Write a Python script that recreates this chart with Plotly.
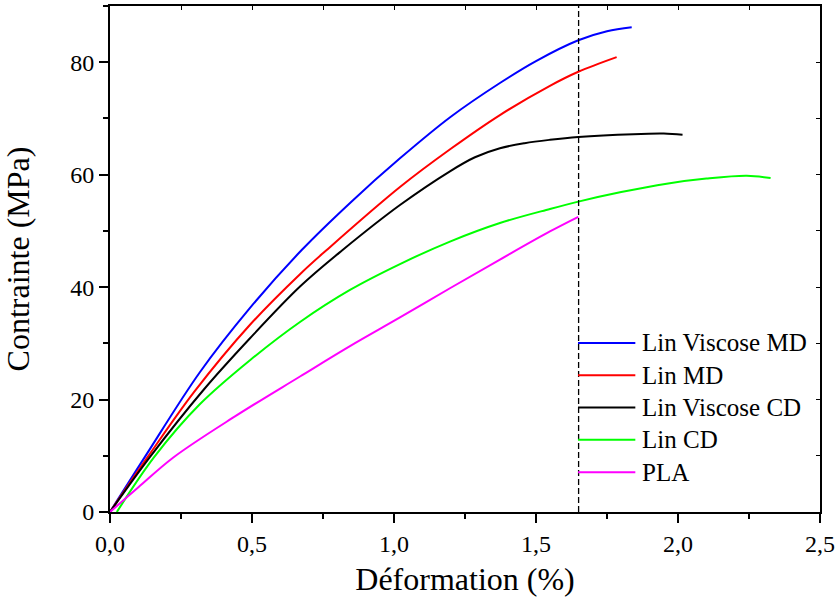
import plotly.graph_objects as go

# ---- data ----
names = ["Lin Viscose MD", "Lin MD", "Lin Viscose CD", "Lin CD", "PLA"]
colors = ["#0000ff", "#ff0000", "#000000", "#00ff00", "#ff00ff"]

x_lvmd = [0, 0.123, 0.317, 0.493, 0.675, 0.85, 1.021, 1.2, 1.373, 1.5, 1.649, 1.75, 1.837]
y_lvmd = [0, 9.8, 24.9, 36.3, 46.6, 55.2, 62.9, 70.3, 76.3, 80.2, 83.9, 85.5, 86.2]

x_lmd = [0, 0.133, 0.297, 0.493, 0.669, 0.763, 1.021, 1.2, 1.373, 1.549, 1.649, 1.784]
y_lmd = [0, 9.8, 21.4, 33.3, 42.3, 46.6, 57.8, 64.6, 70.6, 75.8, 78.3, 80.9]

x_lvcd = [0, 0.141, 0.329, 0.493, 0.669, 0.819, 1.021, 1.197, 1.285, 1.373, 1.46, 1.549, 1.649, 1.843, 1.95, 2.016]
y_lvcd = [0, 9.8, 21.7, 30.9, 40.1, 46.6, 54.6, 60.6, 63.1, 64.7, 65.6, 66.2, 66.7, 67.2, 67.3, 67.1]

x_lcd = [0.024, 0.156, 0.317, 0.493, 0.669, 0.845, 1.021, 1.197, 1.373, 1.549, 1.649, 1.8, 1.96, 2.1, 2.242, 2.326]
y_lcd = [0, 9.8, 19.2, 27.0, 33.8, 39.5, 44.1, 48.1, 51.4, 53.9, 55.2, 56.9, 58.4, 59.3, 59.8, 59.4]

x_pla = [0, 0.1, 0.223, 0.44, 0.669, 0.845, 1.021, 1.197, 1.373, 1.549, 1.649]
y_pla = [0, 4.4, 9.7, 17.0, 24.1, 29.5, 34.6, 39.8, 44.9, 49.9, 52.5]

xs = [x_lvmd, x_lmd, x_lvcd, x_lcd, x_pla]
ys = [y_lvmd, y_lmd, y_lvcd, y_lcd, y_pla]

DASH_X = 1.65
X_RANGE = [0, 2.5]
Y_RANGE = [0, 90]
x_ticks = [0, 0.5, 1.0, 1.5, 2.0, 2.5]
y_ticks = [0, 20, 40, 60, 80]
x_title = "Déformation (%)"
y_title = "Contrainte (MPa)"

FONT = "Liberation Serif, Times New Roman, serif"

fig = go.Figure()
for n, c, x, y in zip(names, colors, xs, ys):
    fig.add_trace(go.Scatter(x=x, y=y, mode="lines", name=n, showlegend=False,
                             line=dict(color=c, width=2, shape="spline", smoothing=1.0)))

# invisible trace to activate the mirror axes
fig.add_trace(go.Scatter(x=[None], y=[None], xaxis="x2", yaxis="y2", showlegend=False, hoverinfo="skip"))

fig.add_shape(type="line", xref="x", yref="paper", x0=DASH_X, x1=DASH_X, y0=0, y1=1,
              line=dict(color="black", width=1.3, dash="6px,3px"))

# legend drawn in paper coordinates (long line samples like the reference)
leg_x0, leg_x1, leg_tx = 0.6592, 0.7399, 0.7468
leg_y_top, leg_dy = 0.3340, 0.0638
for i, (n, c) in enumerate(zip(names, colors)):
    yy = leg_y_top - i * leg_dy
    fig.add_shape(type="line", xref="paper", yref="paper", x0=leg_x0, x1=leg_x1, y0=yy, y1=yy,
                  line=dict(color=c, width=2))
    fig.add_annotation(xref="paper", yref="paper", x=leg_tx, y=yy, text=n, showarrow=False,
                       xanchor="left", yanchor="middle",
                       font=dict(family=FONT, size=25, color="black"))

axis_common = dict(showgrid=False, zeroline=False, showline=True, linecolor="black", linewidth=2,
                   tickcolor="black", tickwidth=1.5, automargin=False,
                   tickfont=dict(family=FONT, size=24, color="black"))

fig.update_layout(
    width=837, height=603,
    margin=dict(l=110, r=17, t=6, b=91),
    paper_bgcolor="white", plot_bgcolor="white",
    separators=", ",
    font=dict(family=FONT, color="black"),
    xaxis=dict(range=X_RANGE, tickvals=x_ticks, tickformat=".1f", ticks="outside", ticklen=9,
               minor=dict(ticks="outside", ticklen=5, dtick=0.25, tickcolor="black", tickwidth=1.5),
               title=dict(text=x_title, font=dict(family=FONT, size=32, color="black"), standoff=12),
               **axis_common),
    yaxis=dict(range=Y_RANGE, tickvals=y_ticks, ticks="outside", ticklen=9,
               minor=dict(ticks="outside", ticklen=5, dtick=10, tickcolor="black", tickwidth=1.5),
               title=dict(text=y_title, font=dict(family=FONT, size=32, color="black"), standoff=34),
               **axis_common),
    xaxis2=dict(overlaying="x", side="top", range=X_RANGE, dtick=0.25, tick0=0, ticks="inside", ticklen=4,
                showticklabels=False, showgrid=False, zeroline=False, showline=True, linecolor="black",
                linewidth=2, tickcolor="black", tickwidth=1, automargin=False),
    yaxis2=dict(overlaying="y", side="right", range=Y_RANGE, dtick=10, tick0=0, ticks="inside", ticklen=4,
                showticklabels=False, showgrid=False, zeroline=False, showline=True, linecolor="black",
                linewidth=2, tickcolor="black", tickwidth=1, automargin=False),
    showlegend=False,
)

fig.write_html("out.html", config={"displayModeBar": False},
               post_script="document.body.style.margin='0px';")
